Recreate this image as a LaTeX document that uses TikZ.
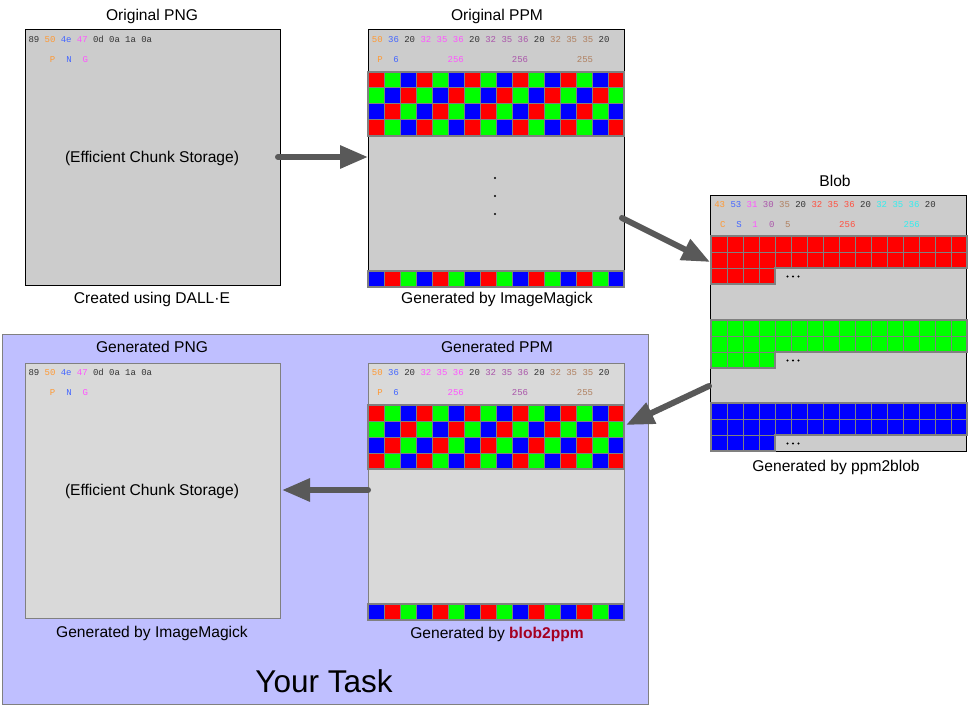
\documentclass[tikz,border=0pt]{standalone}
\usepackage{fontspec}
\setmainfont{Liberation Sans}
\newfontfamily\hexfont{Liberation Mono}
\usetikzlibrary{arrows.meta}
\definecolor{boxgray}{HTML}{CCCCCC}
\definecolor{genfill}{HTML}{D9D9D9}
\definecolor{lav}{HTML}{BFBFFF}
\definecolor{arrowgray}{HTML}{595959}
\definecolor{cellline}{HTML}{808080}
\definecolor{cOr}{HTML}{FF9933}
\definecolor{cBl}{HTML}{4466FF}
\definecolor{cMg}{HTML}{FF55FF}
\definecolor{cPu}{HTML}{AA55AA}
\definecolor{cTa}{HTML}{B08060}
\definecolor{cRd}{HTML}{FF5040}
\definecolor{cCy}{HTML}{33EEEE}
\definecolor{cBk}{HTML}{333333}
\definecolor{pR}{HTML}{FF0000}
\definecolor{pG}{HTML}{00FF00}
\definecolor{pB}{HTML}{0000FF}
\definecolor{dred}{HTML}{A50021}
\begin{document}
\begin{tikzpicture}[x=1pt,y=-1pt,
  lbl/.style={font=\fontsize{15.6}{18}\selectfont, inner sep=0pt, anchor=base},
  hex/.style={font=\hexfont\fontsize{9}{10}\selectfont, inner sep=0pt, anchor=base},
  imgbox/.style={draw=black, line width=1pt, fill=boxgray, inner sep=0pt, outer sep=0pt, anchor=north west},
  genbox/.style={imgbox, draw=cellline, fill=genfill},
  cell/.style={draw=cellline, line width=1pt},
  gridframe/.style={draw=cellline, line width=2pt},
  bigarrow/.style={draw=arrowgray, line width=6pt, line cap=round, -{Triangle[length=28pt,width=22pt]}},
  dot/.style={fill=black, draw=none}
]
\useasboundingbox (0,0) rectangle (968,706);
\fill[white] (0,0) rectangle (968,706);

% ---------- Your Task area ----------
\node[draw=cellline, line width=1pt, fill=lav, minimum width=646pt, minimum height=370pt, inner sep=0pt, anchor=north west] (task) at (2,334) {};
\node[lbl, font=\fontsize{31.5}{36}\selectfont] (tasklbl) at (324,692) {Your Task};

% ---------- Boxes ----------
\node[imgbox, minimum width=255pt, minimum height=255pt] (opng) at (25,30) {};
\node[imgbox, minimum width=256pt, minimum height=257pt] (oppm) at (368,30) {};
\node[imgbox, minimum width=256pt, minimum height=256pt] (blob) at (710,195) {};
\node[genbox, minimum width=255pt, minimum height=255pt] (gpng) at (25,363) {};
\node[genbox, minimum width=256pt, minimum height=257pt] (gppm) at (368,363) {};

% ---------- Titles and captions ----------
\node[lbl] (t1) at (152,20.5) {Original PNG};
\node[lbl] (t2) at (497,20.5) {Original PPM};
\node[lbl] (c1) at (152,303.7) {Created using DALL·E};
\node[lbl] (c2) at (497,303.7) {Generated by ImageMagick};
\node[lbl] (t3) at (835,186.7) {Blob};
\node[lbl] (c3) at (836,471.7) {Generated by ppm2blob};
\node[lbl] (t4) at (152,352.7) {Generated PNG};
\node[lbl] (t5) at (497,352.7) {Generated PPM};
\node[lbl] (c4) at (152,637.7) {Generated by ImageMagick};
\node[lbl] (c5) at (497,638.2) {Generated by \textcolor{dred}{\textbf{blob2ppm}}};
\node[lbl] (e1) at (152,162.7) {(Efficient Chunk Storage)};
\node[lbl] (e2) at (152,495.7) {(Efficient Chunk Storage)};

% ---------- PNG headers ----------
\foreach \dy/\pfx in {0/a,333.3/b}{
  \foreach \t/\c [count=\i from 0] in {89/cBk,50/cOr,4e/cBl,47/cMg,0d/cBk,0a/cBk,1a/cBk,0a/cBk}
    \node[hex, text=\c] (png\pfx h\i) at (34+16.1*\i, 42.3+\dy) {\t};
  \node[hex, text=cOr] (png\pfx P) at (52.7, 62.3+\dy) {P};
  \node[hex, text=cBl] (png\pfx N) at (69, 62.3+\dy) {N};
  \node[hex, text=cMg] (png\pfx G) at (85.3, 62.3+\dy) {G};
}

% ---------- PPM headers ----------
\foreach \dy/\pfx in {0/a,333.3/b}{
  \foreach \t/\c [count=\i from 0] in {50/cOr,36/cBl,20/cBk,32/cMg,35/cMg,36/cMg,20/cBk,32/cPu,35/cPu,36/cPu,20/cBk,32/cTa,35/cTa,35/cTa,20/cBk}
    \node[hex, text=\c] (ppm\pfx h\i) at (377.3+16.2*\i, 42.3+\dy) {\t};
  \node[hex, text=cOr] (ppm\pfx P) at (380, 62.3+\dy) {P};
  \node[hex, text=cBl] (ppm\pfx W) at (396, 62.3+\dy) {6};
  \node[hex, text=cMg] (ppm\pfx H) at (455.7, 62.3+\dy) {256};
  \node[hex, text=cPu] (ppm\pfx D) at (520, 62.3+\dy) {256};
  \node[hex, text=cTa] (ppm\pfx M) at (585, 62.3+\dy) {255};
}

% ---------- PPM grids ----------
\foreach \dy in {0,333}{
  \foreach \r in {0,...,3}{
    \foreach \c in {0,...,15}{
      \pgfmathtruncatemacro\k{mod(\c+\r,3)}
      \ifcase\k \def\cc{pR}\or \def\cc{pG}\or \def\cc{pB}\fi
      \draw[cell, fill=\cc] (368+16*\c, 72+16*\r+\dy) rectangle ++(16,16);
    }
  }
  \draw[gridframe] (368,72+\dy) rectangle (624,136+\dy);
  \foreach \c in {0,...,15}{
    \pgfmathtruncatemacro\k{mod(\c+2,3)}
    \ifcase\k \def\cc{pR}\or \def\cc{pG}\or \def\cc{pB}\fi
    \draw[cell, fill=\cc] (368+16*\c, 271+\dy) rectangle ++(16,16);
  }
  \draw[gridframe] (368,271+\dy) rectangle (624,287+\dy);
}
% vertical ellipsis in original PPM
\foreach \yy in {178,196,214}
  \fill[dot] (495,\yy) circle (1.2pt);

% ---------- Blob grids ----------
\foreach \yy/\cc in {236/pR,320/pG,403/pB}{
  \foreach \r in {0,1}{
    \foreach \c in {0,...,15}
      \draw[cell, fill=\cc] (711+16*\c, \yy+16*\r) rectangle ++(16,16);
  }
  \foreach \c in {0,...,3}
    \draw[cell, fill=\cc] (711+16*\c, \yy+32) rectangle ++(16,16);
  \draw[gridframe] (711,\yy) -- (967,\yy) -- (967,\yy+32) -- (775,\yy+32) -- (775,\yy+48) -- (711,\yy+48) -- cycle;
  \foreach \xx in {787.5,793,798.5}
    \fill[dot] (\xx,\yy+40.5) circle (1.1pt);
}

% ---------- Blob header ----------
\foreach \t/\c [count=\i from 0] in {43/cOr,53/cBl,31/cMg,30/cPu,35/cTa,20/cBk,32/cRd,35/cRd,36/cRd,20/cBk,32/cCy,35/cCy,36/cCy,20/cBk}
  \node[hex, text=\c] (blobh\i) at (719.7+16.2*\i, 207.3) {\t};
\node[hex, text=cOr] (blobC) at (722.7,227.3) {C};
\node[hex, text=cBl] (blobS) at (739,227.3) {S};
\node[hex, text=cMg] (blobA) at (755,227.3) {1};
\node[hex, text=cPu] (blobB) at (771.7,227.3) {0};
\node[hex, text=cTa] (blobD) at (787.7,227.3) {5};
\node[hex, text=cRd] (blobE) at (847.3,227.3) {256};
\node[hex, text=cCy] (blobF) at (911.7,227.3) {256};

% ---------- Arrows ----------
\coordinate (a1s) at (278,157);
\coordinate (a1e) at (368,157);
\coordinate (a2s) at (622,218);
\coordinate (a2e) at (710,262);
\coordinate (a3s) at (709,386);
\coordinate (a3e) at (626,425);
\coordinate (a4s) at (368,490);
\coordinate (a4e) at (282,490);
\draw[bigarrow] (a1s) -- (a1e);
\draw[bigarrow] (a2s) -- (a2e);
\draw[bigarrow] (a3s) -- (a3e);
\draw[bigarrow] (a4s) -- (a4e);
\end{tikzpicture}
\end{document}
